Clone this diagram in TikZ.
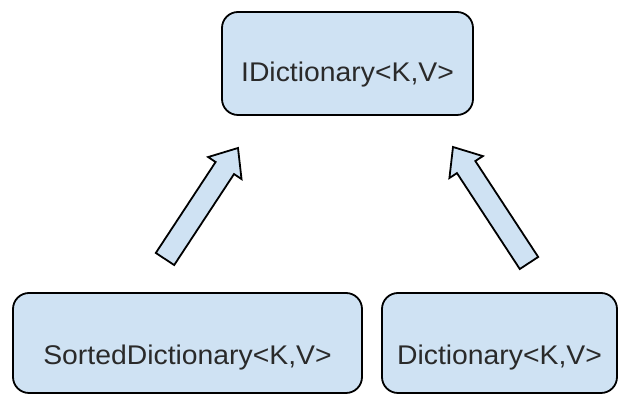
\documentclass[tikz,border=0pt]{standalone}
\usepackage{fontspec}
\setmainfont{Liberation Sans}[FakeStretch=1.05]
\usetikzlibrary{calc}
\definecolor{boxfill}{HTML}{CFE2F3}
\definecolor{txt}{HTML}{2A2A2A}
\begin{document}
\begin{tikzpicture}[x=1pt,y=1pt,
  cls/.style={draw=black, line width=1.8pt, fill=boxfill, rounded corners=16pt,
    text=txt, font=\fontsize{27}{32}\selectfont, inner sep=0pt, text depth=0pt},
  arr/.style={draw=black, line width=1.8pt, fill=boxfill, line join=miter}]
\useasboundingbox (0,0) rectangle (622,395);
\node[cls, minimum width=251pt, minimum height=103pt, text height=36pt] (idict) at (347.5,331.5) {IDictionary<K,V>};
\node[cls, minimum width=349pt, minimum height=100pt, text height=44pt] (sorted) at (187.5,52) {SortedDictionary<K,V>};
\node[cls, minimum width=235pt, minimum height=100pt, text height=44pt] (dict) at (499.5,52) {Dictionary<K,V>};
% arrows
\coordinate (tailL) at (165,136);
\coordinate (tipL) at (238,247);
\coordinate (tailR) at (529,132);
\coordinate (tipR) at (453,248);
\foreach \a/\b in {tailL/tipL, tailR/tipR}{
  \coordinate (hb) at ($(\b)!24pt!(\a)$);
  \draw[arr] ($(\a)!11pt!90:(\b)$) -- ($(hb)!11pt!90:(\b)$) -- ($(hb)!20pt!90:(\b)$) -- (\b)
    -- ($(hb)!20pt!-90:(\b)$) -- ($(hb)!11pt!-90:(\b)$) -- ($(\a)!11pt!-90:(\b)$) -- cycle;
}
\end{tikzpicture}
\end{document}
